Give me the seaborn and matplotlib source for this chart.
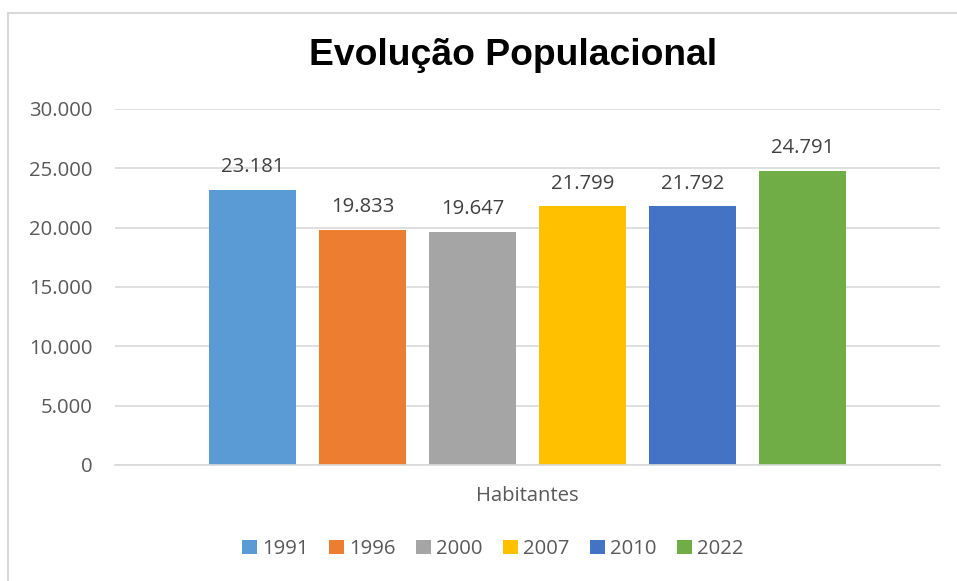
import pandas as pd
import matplotlib.pyplot as plt
import seaborn as sns
from matplotlib.lines import Line2D
from matplotlib.ticker import FuncFormatter

# data
anos = ["1991", "1996", "2000", "2007", "2010", "2022"]
habitantes = [23181, 19833, 19647, 21799, 21792, 24791]
categoria = "Habitantes"
cores = ["#5B9BD5", "#ED7D31", "#A5A5A5", "#FFC000", "#4472C4", "#70AD47"]

df = pd.DataFrame({"Categoria": [categoria] * len(anos), "Ano": anos, "Valor": habitantes})


def fmt_br(v):
    return f"{int(round(v)):,}".replace(",", ".")


sns.set_style("white")
plt.rcParams["font.family"] = ["Open Sans", "DejaVu Sans"]

fig = plt.figure(figsize=(9.57, 5.81), dpi=100)
ax = fig.add_axes([0.1202, 0.1997, 0.862, 0.6127])

sns.barplot(data=df, x="Categoria", y="Valor", hue="Ano", palette=cores,
            width=0.8, gap=0.21, saturation=1, linewidth=0, ax=ax, legend=True)

for cont, v in zip(ax.containers, habitantes):
    ax.bar_label(cont, labels=[fmt_br(v)], padding=9, fontsize=14.6, color="#404040")

ax.set_ylim(0, 30000)
ax.set_xlim(-0.5, 0.5)
ax.set_yticks(range(0, 30001, 5000))
ax.yaxis.set_major_formatter(FuncFormatter(lambda v, p: fmt_br(v)))
ax.tick_params(axis="both", length=0, labelsize=14.6, colors="#595959")
ax.tick_params(axis="y", pad=16)
ax.tick_params(axis="x", pad=15)
ax.set_xlabel("")
ax.set_ylabel("")
ax.grid(axis="y", color="#d9d9d9", linewidth=1.2)
ax.set_axisbelow(True)
for s in ["top", "right", "left"]:
    ax.spines[s].set_visible(False)
ax.spines["bottom"].set_color("#d9d9d9")
ax.spines["bottom"].set_linewidth(1.2)

fig.text(0.536, 0.904, "Evolução Populacional", ha="center", va="center",
         fontsize=26.8, fontweight="bold", family="Liberation Sans", color="black")

ax.get_legend().remove()
handles, labels = ax.get_legend_handles_labels()
fig.legend(handles, labels, loc="center", bbox_to_anchor=(0.515, 0.055), ncol=6,
           frameon=False, fontsize=14.6, labelcolor="#595959", handlelength=0.75,
           handleheight=0.75, handletextpad=0.25, columnspacing=1.0)

# chart border (top and left visible)
fig.add_artist(Line2D([0.0084, 0.0084], [0, 1 - 12.5 / 581], color="#d9d9d9", lw=1.5,
                      transform=fig.transFigure))
fig.add_artist(Line2D([0.0084, 1.0], [1 - 12.5 / 581, 1 - 12.5 / 581], color="#d9d9d9", lw=1.5,
                      transform=fig.transFigure))

fig.savefig("out.png", dpi=100)
